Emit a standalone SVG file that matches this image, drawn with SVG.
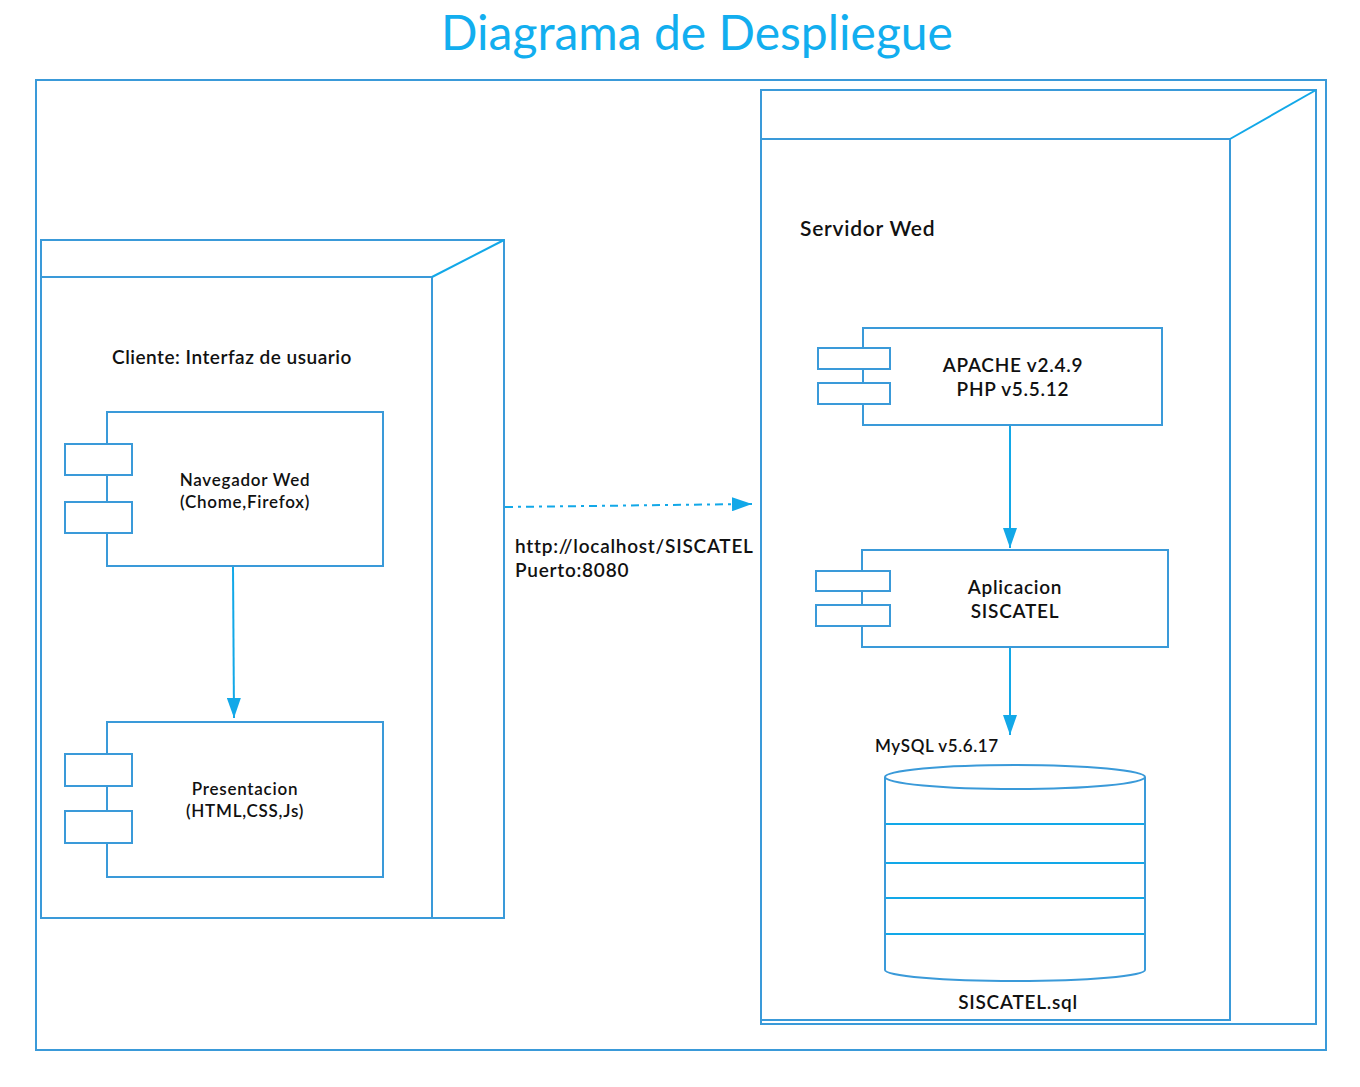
<svg xmlns="http://www.w3.org/2000/svg" width="1360" height="1087" viewBox="0 0 1360 1087">
<defs>
<style>
.frame{fill:none;stroke:#3a9ad9;stroke-width:2}
.box{fill:#ffffff;stroke:#3a9ad9;stroke-width:2}
.bright{fill:none;stroke:#12a8e8;stroke-width:2}
.conn{fill:none;stroke:#12a8e8;stroke-width:2}
.t{font-family:Lato,"Liberation Sans",sans-serif;fill:#111111;font-weight:600;letter-spacing:0.75px}
.title{font-family:Lato,"Liberation Sans",sans-serif;fill:#12aeef;font-size:48px}
</style>
<marker id="ah" viewBox="0 0 20 14" refX="20" refY="7" markerWidth="20" markerHeight="14" markerUnits="userSpaceOnUse" orient="auto">
<path d="M0,0 L20,7 L0,14 Z" fill="#12a8e8"/>
</marker>
</defs>
<rect width="1360" height="1087" fill="#ffffff"/>
<text class="title" x="697" y="50" text-anchor="middle">Diagrama de Despliegue</text>
<rect id="frame" class="frame" x="36" y="80" width="1290" height="970"/>

<g id="node-cliente">
<path class="frame" d="M41,240 H504 V918 H41 Z"/>
<rect class="frame" x="41" y="277" width="391" height="641"/>
<line class="bright" x1="432" y1="277" x2="504" y2="240"/>
<text class="t" x="112" y="364" font-size="19" style="letter-spacing:0.5px">Cliente: Interfaz de usuario</text>
</g>

<g id="comp-navegador">
<rect class="box" x="107" y="412" width="276" height="154"/>
<rect class="box" x="65" y="444" width="67" height="31"/>
<rect class="box" x="65" y="502" width="67" height="31"/>
<text class="t" font-size="17" text-anchor="middle" x="245" y="486">Navegador Wed</text>
<text class="t" font-size="17" text-anchor="middle" x="245" y="508">(Chome,Firefox)</text>
</g>

<g id="comp-presentacion">
<rect class="box" x="107" y="722" width="276" height="155"/>
<rect class="box" x="65" y="754" width="67" height="32"/>
<rect class="box" x="65" y="811" width="67" height="32"/>
<text class="t" font-size="17" text-anchor="middle" x="245" y="795">Presentacion</text>
<text class="t" font-size="17" text-anchor="middle" x="245" y="817">(HTML,CSS,Js)</text>
</g>

<g id="node-servidor">
<path class="frame" d="M761,90 H1316 V1024 H761 Z"/>
<rect class="frame" x="761" y="139" width="469" height="881"/>
<line class="bright" x1="1230" y1="139" x2="1316" y2="90"/>
<text class="t" x="800" y="236" font-size="21">Servidor Wed</text>
</g>

<g id="comp-apache">
<rect class="box" x="863" y="328" width="299" height="97"/>
<rect class="box" x="818" y="348" width="72" height="21"/>
<rect class="box" x="818" y="383" width="72" height="21"/>
<text class="t" font-size="19" text-anchor="middle" x="1013" y="372">APACHE v2.4.9</text>
<text class="t" font-size="19" text-anchor="middle" x="1013" y="396">PHP v5.5.12</text>
</g>

<g id="comp-aplicacion">
<rect class="box" x="862" y="550" width="306" height="97"/>
<rect class="box" x="816" y="571" width="74" height="20"/>
<rect class="box" x="816" y="605" width="74" height="21"/>
<text class="t" font-size="19" text-anchor="middle" x="1015" y="594">Aplicacion</text>
<text class="t" font-size="19" text-anchor="middle" x="1015" y="618">SISCATEL</text>
</g>

<g id="db-mysql">
<text class="t" font-size="17" x="875" y="752" style="letter-spacing:0.6px">MySQL v5.6.17</text>
<path class="box" d="M885,777 A130,12 0 0 1 1145,777 V970 A130,11 0 0 1 885,970 Z"/>
<path class="frame" d="M885,777 A130,12 0 0 0 1145,777"/>
<line class="bright" x1="886" y1="824" x2="1144" y2="824"/>
<line class="bright" x1="886" y1="863" x2="1144" y2="863"/>
<line class="bright" x1="886" y1="898" x2="1144" y2="898"/>
<line class="bright" x1="886" y1="934" x2="1144" y2="934"/>
<text class="t" font-size="19" text-anchor="middle" x="1018" y="1009">SISCATEL.sql</text>
</g>

<g id="connectors">
<line class="conn" x1="233" y1="567" x2="234" y2="718" marker-end="url(#ah)"/>
<line class="conn" x1="505" y1="507" x2="752" y2="504" stroke-dasharray="8 5 3 5" marker-end="url(#ah)"/>
<line class="conn" x1="1010" y1="426" x2="1010" y2="548" marker-end="url(#ah)"/>
<line class="conn" x1="1010" y1="648" x2="1010" y2="735" marker-end="url(#ah)"/>
<text class="t" font-size="19" x="515" y="553">http://localhost/SISCATEL</text>
<text class="t" font-size="19" x="515" y="577">Puerto:8080</text>
</g>
</svg>
